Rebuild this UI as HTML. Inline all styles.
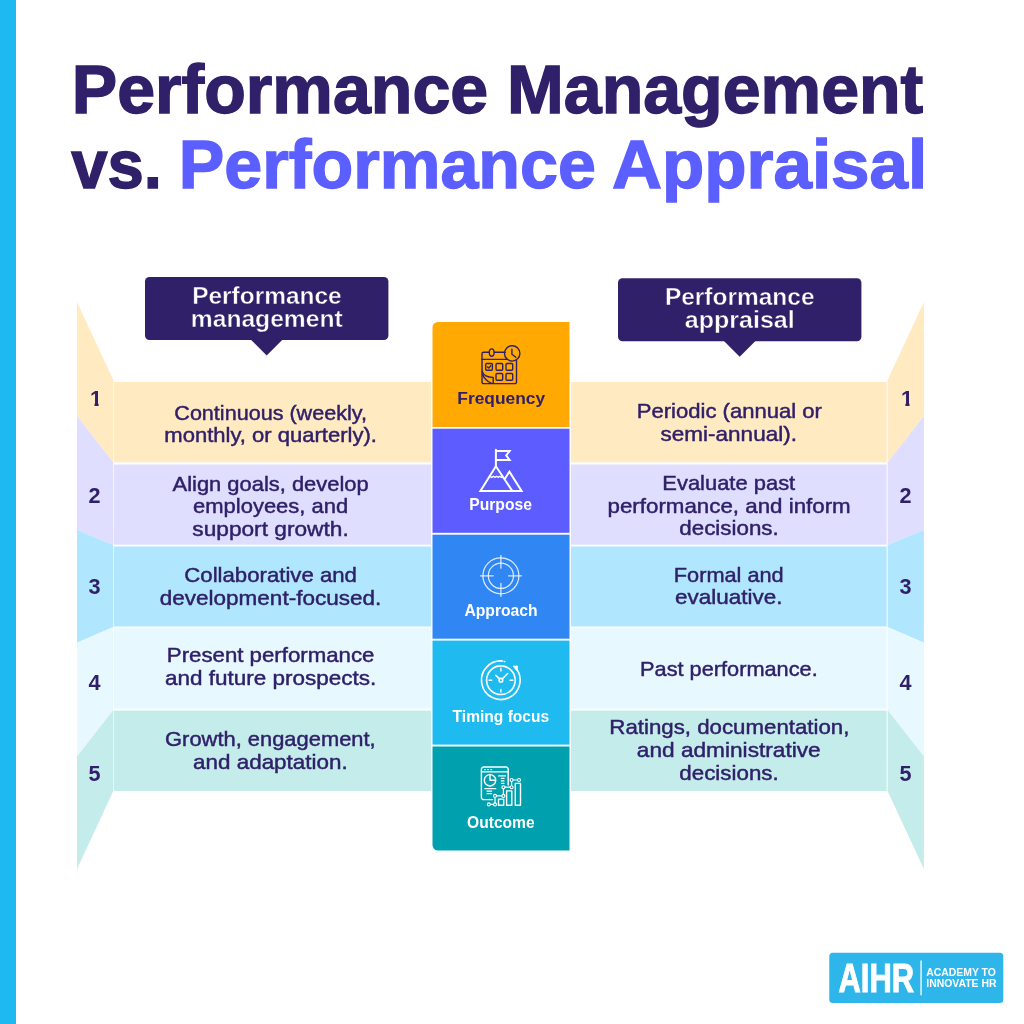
<!DOCTYPE html>
<html lang="en">
<head>
<meta charset="utf-8">
<title>Performance Management vs. Performance Appraisal</title>
<style>
html,body{margin:0;padding:0;background:#fff;}
body{width:1024px;height:1024px;overflow:hidden;position:relative;font-family:"Liberation Sans",sans-serif;}
svg{position:absolute;left:0;top:0;display:block;}
svg text{font-family:"Liberation Sans",sans-serif;white-space:pre;}
</style>
</head>
<body>
<svg width="1024" height="1024" viewBox="0 0 1024 1024">
<rect x="0" y="0" width="1024" height="1024" fill="#ffffff"/>

<rect x="0" y="0" width="16" height="1024" fill="#1db9f0"/>
<g id="title">
<text x="71.80" y="112.80" font-size="68.5" font-weight="bold" fill="#2f2069" textLength="851.50" lengthAdjust="spacingAndGlyphs" stroke="#2f2069" stroke-width="1.4">Performance Management</text>
<text x="71.20" y="187.80" font-size="68.5" font-weight="bold" fill="#2f2069" textLength="90.80" lengthAdjust="spacingAndGlyphs" stroke="#2f2069" stroke-width="1.4">vs.</text>
<text x="178.70" y="187.80" font-size="68.5" font-weight="bold" fill="#5c5fff" textLength="417.30" lengthAdjust="spacingAndGlyphs" stroke="#5c5fff" stroke-width="1.4">Performance</text>
<text x="612.00" y="187.80" font-size="68.5" font-weight="bold" fill="#5c5fff" textLength="315.30" lengthAdjust="spacingAndGlyphs" stroke="#5c5fff" stroke-width="1.4">Appraisal</text>
</g>
<g id="rows">
<rect x="113.9" y="382" width="317.1" height="80.3" fill="#ffeac2"/>
<rect x="571" y="382" width="315.6" height="80.3" fill="#ffeac2"/>
<rect x="113.9" y="464.5" width="317.1" height="80.2" fill="#dfdefe"/>
<rect x="571" y="464.5" width="315.6" height="80.2" fill="#dfdefe"/>
<rect x="113.9" y="546.5" width="317.1" height="80.0" fill="#b0e6fe"/>
<rect x="571" y="546.5" width="315.6" height="80.0" fill="#b0e6fe"/>
<rect x="113.9" y="628.2" width="317.1" height="80.4" fill="#e8f8ff"/>
<rect x="571" y="628.2" width="315.6" height="80.4" fill="#e8f8ff"/>
<rect x="113.9" y="710.6" width="317.1" height="80.4" fill="#c4eceb"/>
<rect x="571" y="710.6" width="315.6" height="80.4" fill="#c4eceb"/>
</g>
<g id="folds">
<polygon points="77,302 113.3,380 113.3,462.5 77,416" fill="#ffeac2"/>
<polygon points="923.9,302 887.6,380 887.6,462.5 923.9,416" fill="#ffeac2"/>
<polygon points="77,416 113.3,462.5 113.3,545 77,530" fill="#dfdefe"/>
<polygon points="923.9,416 887.6,462.5 887.6,545 923.9,530" fill="#dfdefe"/>
<polygon points="77,530 113.3,545 113.3,627 77,642.7" fill="#b0e6fe"/>
<polygon points="923.9,530 887.6,545 887.6,627 923.9,642.7" fill="#b0e6fe"/>
<polygon points="77,642.7 113.3,627 113.3,710 77,756.5" fill="#e8f8ff"/>
<polygon points="923.9,642.7 887.6,627 887.6,710 923.9,756.5" fill="#e8f8ff"/>
<polygon points="77,756.5 113.3,710 113.3,791 77,869" fill="#c4eceb"/>
<polygon points="923.9,756.5 887.6,710 887.6,791 923.9,869" fill="#c4eceb"/>
</g>
<g id="nums">
<clipPath id="c1L"><rect x="88.00" y="387.60" width="16" height="15.10"/><rect x="94.50" y="401.60" width="4.1" height="5"/></clipPath>
<g clip-path="url(#c1L)"><text x="96.0" y="405.6" font-size="21.6" font-weight="bold" fill="#2f2069" text-anchor="middle">1</text></g>
<clipPath id="c1R"><rect x="898.90" y="387.60" width="16" height="15.10"/><rect x="905.40" y="401.60" width="4.1" height="5"/></clipPath>
<g clip-path="url(#c1R)"><text x="906.9" y="405.6" font-size="21.6" font-weight="bold" fill="#2f2069" text-anchor="middle">1</text></g>
<text x="94.4" y="503" font-size="21.6" font-weight="bold" fill="#2f2069" text-anchor="middle">2</text>
<text x="905.6" y="503" font-size="21.6" font-weight="bold" fill="#2f2069" text-anchor="middle">2</text>
<text x="94.4" y="594" font-size="21.6" font-weight="bold" fill="#2f2069" text-anchor="middle">3</text>
<text x="905.6" y="594" font-size="21.6" font-weight="bold" fill="#2f2069" text-anchor="middle">3</text>
<text x="94.4" y="690" font-size="21.6" font-weight="bold" fill="#2f2069" text-anchor="middle">4</text>
<text x="905.6" y="690" font-size="21.6" font-weight="bold" fill="#2f2069" text-anchor="middle">4</text>
<text x="94.4" y="781.3" font-size="21.6" font-weight="bold" fill="#2f2069" text-anchor="middle">5</text>
<text x="905.6" y="781.3" font-size="21.6" font-weight="bold" fill="#2f2069" text-anchor="middle">5</text>
</g>
<g id="labels">
<rect x="145" y="277" width="243.4" height="63" rx="4.5" fill="#2f2069"/>
<polygon points="250.7,339.5 282.7,339.5 266.7,355.5" fill="#2f2069"/>
<rect x="618" y="278.2" width="243.4" height="63" rx="4.5" fill="#2f2069"/>
<polygon points="723.7,340.7 755.7,340.7 739.7,356.7" fill="#2f2069"/>
<text x="192.20" y="303.50" font-size="23.6" font-weight="bold" fill="#ffffff" textLength="149.50" lengthAdjust="spacingAndGlyphs" stroke="#2f2069" stroke-width="0.4">Performance</text>
<text x="190.80" y="327.00" font-size="23.6" font-weight="bold" fill="#ffffff" textLength="151.90" lengthAdjust="spacingAndGlyphs" stroke="#2f2069" stroke-width="0.4">management</text>
<text x="664.90" y="304.90" font-size="23.6" font-weight="bold" fill="#ffffff" textLength="149.60" lengthAdjust="spacingAndGlyphs" stroke="#2f2069" stroke-width="0.4">Performance</text>
<text x="684.80" y="328.10" font-size="23.6" font-weight="bold" fill="#ffffff" textLength="109.90" lengthAdjust="spacingAndGlyphs" stroke="#2f2069" stroke-width="0.4">appraisal</text>
</g>
<g id="center">
<path d="M432.5 427 V327.5 a5.5 5.5 0 0 1 5.5 -5.5 H569.5 V427 Z" fill="#ffa902"/>
<rect x="432.5" y="428.7" width="137" height="104.1" fill="#5d5cff"/>
<rect x="432.5" y="534.7" width="137" height="104" fill="#3086f3"/>
<rect x="432.5" y="640.6" width="137" height="104" fill="#1ebaf0"/>
<path d="M432.5 746.6 H569.5 V850.6 H438 a5.5 5.5 0 0 1 -5.5 -5.5 Z" fill="#00a0ae"/>
<text x="457.30" y="404.40" font-size="16.9" font-weight="bold" fill="#2f2069" textLength="87.80" lengthAdjust="spacingAndGlyphs">Frequency</text>
<text x="469.20" y="510.00" font-size="16.9" font-weight="bold" fill="#ffffff" textLength="62.70" lengthAdjust="spacingAndGlyphs">Purpose</text>
<text x="464.40" y="616.00" font-size="16.9" font-weight="bold" fill="#ffffff" textLength="73.30" lengthAdjust="spacingAndGlyphs">Approach</text>
<text x="452.60" y="721.90" font-size="16.9" font-weight="bold" fill="#ffffff" textLength="96.60" lengthAdjust="spacingAndGlyphs">Timing focus</text>
<text x="467.00" y="827.70" font-size="16.9" font-weight="bold" fill="#ffffff" textLength="67.70" lengthAdjust="spacingAndGlyphs">Outcome</text>
</g>
<g id="body">
<text x="174.30" y="419.50" font-size="20.6" font-weight="normal" fill="#2f2069" textLength="192.65" lengthAdjust="spacingAndGlyphs" stroke="#2f2069" stroke-width="0.45">Continuous (weekly,</text>
<text x="164.30" y="442.00" font-size="20.6" font-weight="normal" fill="#2f2069" textLength="212.65" lengthAdjust="spacingAndGlyphs" stroke="#2f2069" stroke-width="0.45">monthly, or quarterly).</text>
<text x="172.55" y="490.50" font-size="20.6" font-weight="normal" fill="#2f2069" textLength="196.15" lengthAdjust="spacingAndGlyphs" stroke="#2f2069" stroke-width="0.45">Align goals, develop</text>
<text x="193.05" y="513.00" font-size="20.6" font-weight="normal" fill="#2f2069" textLength="155.15" lengthAdjust="spacingAndGlyphs" stroke="#2f2069" stroke-width="0.45">employees, and</text>
<text x="192.30" y="535.50" font-size="20.6" font-weight="normal" fill="#2f2069" textLength="156.40" lengthAdjust="spacingAndGlyphs" stroke="#2f2069" stroke-width="0.45">support growth.</text>
<text x="184.30" y="582.00" font-size="20.6" font-weight="normal" fill="#2f2069" textLength="172.65" lengthAdjust="spacingAndGlyphs" stroke="#2f2069" stroke-width="0.45">Collaborative and</text>
<text x="159.80" y="604.50" font-size="20.6" font-weight="normal" fill="#2f2069" textLength="221.40" lengthAdjust="spacingAndGlyphs" stroke="#2f2069" stroke-width="0.45">development-focused.</text>
<text x="166.80" y="662.00" font-size="20.6" font-weight="normal" fill="#2f2069" textLength="207.65" lengthAdjust="spacingAndGlyphs" stroke="#2f2069" stroke-width="0.45">Present performance</text>
<text x="165.05" y="685.00" font-size="20.6" font-weight="normal" fill="#2f2069" textLength="211.15" lengthAdjust="spacingAndGlyphs" stroke="#2f2069" stroke-width="0.45">and future prospects.</text>
<text x="165.05" y="746.25" font-size="20.6" font-weight="normal" fill="#2f2069" textLength="210.65" lengthAdjust="spacingAndGlyphs" stroke="#2f2069" stroke-width="0.45">Growth, engagement,</text>
<text x="193.05" y="768.75" font-size="20.6" font-weight="normal" fill="#2f2069" textLength="154.65" lengthAdjust="spacingAndGlyphs" stroke="#2f2069" stroke-width="0.45">and adaptation.</text>
<text x="636.80" y="418.25" font-size="20.6" font-weight="normal" fill="#2f2069" textLength="185.15" lengthAdjust="spacingAndGlyphs" stroke="#2f2069" stroke-width="0.45">Periodic (annual or</text>
<text x="660.55" y="441.25" font-size="20.6" font-weight="normal" fill="#2f2069" textLength="136.40" lengthAdjust="spacingAndGlyphs" stroke="#2f2069" stroke-width="0.45">semi-annual).</text>
<text x="662.30" y="489.50" font-size="20.6" font-weight="normal" fill="#2f2069" textLength="132.90" lengthAdjust="spacingAndGlyphs" stroke="#2f2069" stroke-width="0.45">Evaluate past</text>
<text x="607.55" y="512.50" font-size="20.6" font-weight="normal" fill="#2f2069" textLength="243.15" lengthAdjust="spacingAndGlyphs" stroke="#2f2069" stroke-width="0.45">performance, and inform</text>
<text x="679.30" y="535.00" font-size="20.6" font-weight="normal" fill="#2f2069" textLength="99.40" lengthAdjust="spacingAndGlyphs" stroke="#2f2069" stroke-width="0.45">decisions.</text>
<text x="673.80" y="581.75" font-size="20.6" font-weight="normal" fill="#2f2069" textLength="109.90" lengthAdjust="spacingAndGlyphs" stroke="#2f2069" stroke-width="0.45">Formal and</text>
<text x="675.05" y="604.25" font-size="20.6" font-weight="normal" fill="#2f2069" textLength="107.40" lengthAdjust="spacingAndGlyphs" stroke="#2f2069" stroke-width="0.45">evaluative.</text>
<text x="640.05" y="675.50" font-size="20.6" font-weight="normal" fill="#2f2069" textLength="177.65" lengthAdjust="spacingAndGlyphs" stroke="#2f2069" stroke-width="0.45">Past performance.</text>
<text x="609.30" y="734.25" font-size="20.6" font-weight="normal" fill="#2f2069" textLength="240.15" lengthAdjust="spacingAndGlyphs" stroke="#2f2069" stroke-width="0.45">Ratings, documentation,</text>
<text x="636.80" y="757.00" font-size="20.6" font-weight="normal" fill="#2f2069" textLength="183.90" lengthAdjust="spacingAndGlyphs" stroke="#2f2069" stroke-width="0.45">and administrative</text>
<text x="679.30" y="780.00" font-size="20.6" font-weight="normal" fill="#2f2069" textLength="99.40" lengthAdjust="spacingAndGlyphs" stroke="#2f2069" stroke-width="0.45">decisions.</text>
</g>
<g id="icons" fill="none" stroke-linecap="round" stroke-linejoin="round">
<!-- calendar with clock (Frequency) origin 470,335 -->
<g transform="translate(470 335)" stroke="#2f2069" stroke-width="1.4">
<path d="M35.3 17.3 H24.2 M19.2 17.3 H13.6 a1.6 1.6 0 0 0 -1.6 1.6 V47 a1.6 1.6 0 0 0 1.6 1.6 H44.9 a1.6 1.6 0 0 0 1.6 -1.6 V25.2"/>
<path d="M12 24.4 H36.8"/>
<ellipse cx="21.7" cy="17.6" rx="2.4" ry="3.7"/>
<circle cx="42.2" cy="18.4" r="7.7"/>
<path d="M41.9 14.3 V19.2 L45.8 22.2"/>
<rect x="15.7" y="28.5" width="6.7" height="6.7" rx="1"/>
<rect x="26" y="28.5" width="6.7" height="6.7" rx="1"/>
<rect x="36" y="28.5" width="6.7" height="6.7" rx="1"/>
<rect x="26" y="38.5" width="6.7" height="6.7" rx="1"/>
<rect x="36" y="38.5" width="6.7" height="6.7" rx="1"/>
<path d="M17.6 32 L18.8 33.1 L20.8 30.6"/>
<path d="M12.2 36.5 C13.5 40.5 17.5 42.3 23.2 42.4 V48.4"/>
<path d="M12.6 39.5 C14.5 44 18 47 21.5 48.3"/>
</g>
<!-- mountain with flag (Purpose) origin 470,440 -->
<g transform="translate(470 440)" stroke="#ffffff" stroke-width="2" stroke-linejoin="miter">
<path d="M25.9 9.8 V26.3"/>
<path d="M25.9 10.9 H39.6 L36.2 15.4 L39.6 20 H25.9"/>
<path d="M25.9 26.3 L10.4 50.9 H51.6 L39.4 31.6 L35.2 38.2"/>
<path d="M25.9 26.3 L42.3 50.9"/>
<path d="M20.2 36.6 L21.8 37.4 L23.4 36.3 L25 37.4 L26.6 36.3 L28.2 37.4 L29.8 36.3 L31.4 37.4 L32.8 36.6" stroke-width="1.3"/>
</g>
<!-- target (Approach) origin 470,545 -->
<g transform="translate(470 545)" stroke="#ffffff" stroke-opacity="0.82" stroke-width="1.25">
<circle cx="30.9" cy="30.8" r="18"/>
<circle cx="30.9" cy="30.8" r="12.6"/>
<path d="M30.9 10.3 V23.2 M30.9 38.4 V51.3 M10.4 30.8 H23.3 M38.5 30.8 H51.4"/>
</g>
<!-- clock with arrow (Timing focus) origin 470,650 -->
<g transform="translate(470 650)" stroke="#ffffff" stroke-width="1.6">
<circle cx="30.9" cy="30.2" r="14.3"/>
<path d="M45.6 17.8 A19.3 19.3 0 1 1 32.6 11"/>
<path d="M43.6 16.2 L47.6 16.1 L47 20.2 Z" fill="#ffffff" stroke-width="1"/>
<circle cx="34.4" cy="11.6" r="0.5" fill="#ffffff" stroke-width="0.8"/>
<path d="M30.9 30.2 L25.8 25.4 M30.9 30.2 L37.7 23.5"/>
<circle cx="30.9" cy="30.2" r="1.8" fill="#1ebaf0"/>
<path d="M30.9 18.3 V21 M30.9 39.4 V42.1 M19 30.2 H21.7 M40.1 30.2 H42.8" stroke-width="1.4"/>
</g>
<!-- report with chart (Outcome) origin 470,755 -->
<g transform="translate(470 755)" stroke="#ffffff" stroke-width="1.4">
<path d="M22.6 44.6 H13.6 a2.2 2.2 0 0 1 -2.2 -2.2 V14.2 a2.2 2.2 0 0 1 2.2 -2.2 H36 a2.2 2.2 0 0 1 2.2 2.2 V30"/>
<path d="M11.6 16.9 H38"/>
<path d="M14.6 14.6 H15.4 M17.7 14.6 H18.5 M20.8 14.6 H21.6" stroke-width="1.2"/>
<circle cx="20" cy="25.3" r="5.7"/>
<path d="M20 19.8 V25.3 H25.5"/>
<path d="M28.6 20.9 H35.4 M31.4 23.4 H34 M31.4 25.9 H34 M31.4 28.4 H34" stroke-width="1.2"/>
<path d="M14.8 33.7 H25.8 M17 36.2 H21.6 M17 38.7 H21.6" stroke-width="1.2"/>
<rect x="28.5" y="44.1" width="5.2" height="6.2"/>
<rect x="36.6" y="35.9" width="5.2" height="14.4"/>
<rect x="45.3" y="28.4" width="5.2" height="21.9"/>
<path d="M18.8 49.4 H25 V40.9 H33.4 V32.2 H41.6 V25 H49" stroke-width="1.2"/>
<g fill="#00a0ae" stroke-width="1.1">
<circle cx="18.8" cy="49.4" r="1.5"/><circle cx="25" cy="49.4" r="1.5"/><circle cx="25" cy="40.9" r="1.5"/><circle cx="33.4" cy="40.9" r="1.5"/>
<circle cx="33.4" cy="32.2" r="1.5"/><circle cx="41.6" cy="32.2" r="1.5"/><circle cx="41.6" cy="25" r="1.5"/><circle cx="49" cy="25" r="1.5"/>
</g>
</g>
</g>

<g id="logo">
<rect x="829.3" y="952.7" width="174" height="50.2" rx="3.5" fill="#2eb5ea"/>
<text x="838.50" y="991.80" font-size="39.8" font-weight="bold" fill="#ffffff" textLength="75.50" lengthAdjust="spacingAndGlyphs" stroke="#ffffff" stroke-width="1.0">AIHR</text>
<rect x="920.4" y="960.5" width="1.3" height="34.8" fill="#ffffff"/>
<text x="926.30" y="976.10" font-size="10.0" font-weight="bold" fill="#ffffff" textLength="69.60" lengthAdjust="spacingAndGlyphs">ACADEMY TO</text>
<text x="926.30" y="986.90" font-size="10.0" font-weight="bold" fill="#ffffff" textLength="70.20" lengthAdjust="spacingAndGlyphs">INNOVATE HR</text>
</g>
</svg>
</body>
</html>
